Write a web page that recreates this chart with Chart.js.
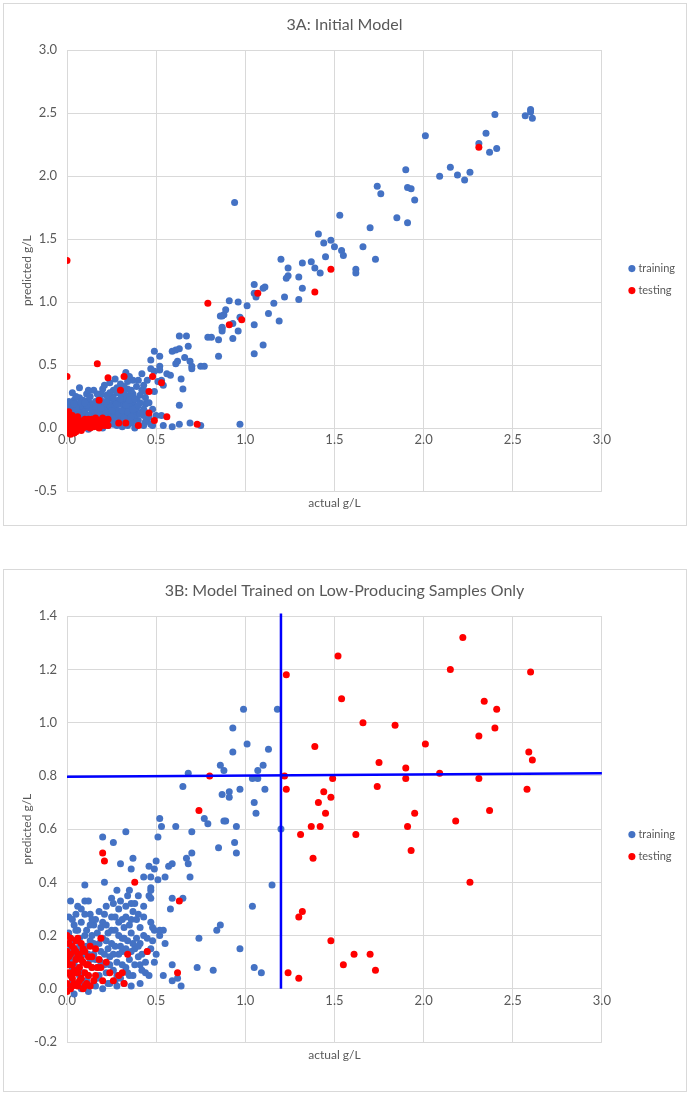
<!DOCTYPE html>
<html>
<head>
<meta charset="utf-8">
<script src="https://cdn.jsdelivr.net/npm/chart.js@4.4.1/dist/chart.umd.min.js"></script>
<style>
  body { margin: 0; background: #fff; }
  .box { position: absolute; left: 3px; width: 682px; height: 521px; border: 1px solid #d9d9d9; background: #fff; }
</style>
</head>
<body>
<div class="box" style="top:3px"><canvas id="chartA" width="682" height="521"></canvas></div>
<div class="box" style="top:569px"><canvas id="chartB" width="682" height="521"></canvas></div>
<script>
// 3A: initial model, [actual, predicted] in g/L
const trainA = [
  [2.60,2.53],[2.57,2.48],[2.61,2.46],[2.60,2.51],[2.40,2.49],[2.01,2.32],[2.35,2.34],[2.31,2.26],[2.37,2.19],[2.41,2.22],
  [1.90,2.05],[1.74,1.92],[1.76,1.86],[1.91,1.91],[1.93,1.90],[1.95,1.81],[1.85,1.67],[1.91,1.63],[1.70,1.59],
  [2.09,2.00],[2.15,2.07],[2.19,2.01],[2.23,1.97],[2.26,2.03],
  [1.66,1.44],[1.73,1.34],[1.62,1.26],[1.62,1.23],
  [0.94,1.79],[1.53,1.69],[1.41,1.54],[1.44,1.47],[1.48,1.49],[1.50,1.44],[1.45,1.36],[1.54,1.41],[1.55,1.37],
  [1.20,1.34],[1.32,1.31],[1.37,1.32],[1.24,1.27],[1.39,1.27],[1.42,1.23],[1.30,1.20],[1.32,1.11],[1.30,1.02],
  [1.24,1.21],[1.23,1.19],[1.22,1.04],[1.16,0.99],[1.13,0.91],[1.19,0.85],
  [1.05,1.14],[1.11,1.12],[1.10,1.11],[1.05,1.07],[1.06,1.04],[1.01,0.97],[1.05,0.82],[1.05,0.59],[1.10,0.66],
  [0.96,1.00],[0.91,1.01],[0.89,0.94],[0.88,0.90],[0.87,0.89],[0.87,0.79],[0.87,0.77],[0.93,0.83],[0.97,0.88],
  [0.96,0.77],[0.86,0.89],[0.87,0.80],[0.93,0.71],
  [0.63,0.73],[0.67,0.73],[0.79,0.72],[0.81,0.72],[0.85,0.70],[0.85,0.57],[0.68,0.65],[0.63,0.63],[0.59,0.61],
  [0.61,0.62],[0.66,0.56],[0.69,0.53],[0.70,0.49],[0.70,0.47],[0.75,0.49],[0.77,0.49],
  [0.52,0.57],[0.49,0.61],[0.47,0.54],[0.52,0.49],[0.52,0.46],[0.56,0.43],[0.58,0.42],[0.61,0.51],[0.62,0.53],
  [0.53,0.38],[0.54,0.34],[0.51,0.37],[0.49,0.45],[0.47,0.47],[0.45,0.38],[0.43,0.34],[0.49,0.29],[0.44,0.19],
  [0.63,0.18],[0.64,0.39],[0.65,0.31],
  [0.53,0.10],[0.54,0.02],[0.59,0.01],[0.63,0.03],[0.69,0.04],[0.75,0.02],[0.97,0.03],
  [0.07,0.32],[0.33,0.44],[0.35,0.41],[0.37,0.38],[0.15,0.30],[0.27,0.39],[0.24,0.36],[0.20,0.31],[0.22,0.26],
  [0.25,0.25],[0.28,0.32],[0.30,0.27],[0.34,0.31],[0.37,0.27],[0.41,0.26],[0.41,0.20],[0.37,0.19],[0.33,0.24],
  [0.29,0.22],[0.26,0.20],[0.11,0.27],[0.07,0.24],[0.04,0.22],[0.01,0.17],[0.12,0.22],[0.19,0.22],[0.17,0.16],
  [0.22,0.16],[0.26,0.15],[0.32,0.15],[0.35,0.14],[0.39,0.11],[0.43,0.10],[0.08,0.15],[0.05,0.11],[0.14,0.11],
  [0.21,0.10],[0.29,0.08],[0.36,0.07],[0.40,0.06],[0.45,0.06],[0.48,0.02],[0.34,0.02],[0.28,0.02],[0.23,0.02],
  [0.17,0.01],
  [0.01,0.05],[0.02,0.12],[0.03,0.08],[0.03,0.18],[0.04,0.14],[0.05,0.03],[0.06,0.07],[0.06,0.19],[0.07,0.12],
  [0.08,0.05],[0.09,0.09],[0.09,0.17],[0.10,0.13],[0.10,0.02],[0.11,0.07],[0.12,0.16],[0.13,0.04],[0.13,0.10],
  [0.14,0.19],[0.15,0.06],[0.15,0.14],[0.16,0.09],[0.17,0.12],[0.18,0.04],[0.18,0.18],[0.19,0.08],[0.20,0.13],
  [0.21,0.05],[0.21,0.19],[0.22,0.09],[0.23,0.13],[0.24,0.06],[0.24,0.18],[0.25,0.10],[0.26,0.03],[0.27,0.12],
  [0.27,0.17],[0.28,0.06],[0.29,0.14],[0.30,0.10],[0.30,0.19],[0.31,0.04],[0.32,0.12],[0.33,0.07],[0.33,0.21],
  [0.34,0.10],[0.35,0.17],[0.36,0.04],[0.37,0.12],[0.38,0.08],[0.39,0.16],[0.40,0.03],[0.42,0.13],[0.44,0.05],
  [0.46,0.09],[0.02,0.01],[0.04,-0.02],[0.07,0.00],[0.12,-0.01],[0.16,0.03],[0.20,0.00],[0.25,0.04],[0.31,0.01],
  [0.38,0.00],[0.43,0.02],[0.00,0.09],[0.00,0.15],[0.01,0.21],[0.05,0.25],[0.09,0.22],[0.13,0.25],[0.16,0.21],
  [0.19,0.27],[0.23,0.23],[0.28,0.28],[0.31,0.22],[0.35,0.26],[0.39,0.23],[0.32,0.33],[0.26,0.30],[0.18,0.25],
  [0.02,0.03],[0.03,0.13],[0.05,0.16],[0.06,0.02],[0.08,0.10],[0.08,0.20],[0.10,0.07],[0.11,0.18],[0.12,0.10],
  [0.14,0.14],[0.14,0.04],[0.16,0.17],[0.17,0.07],[0.19,0.11],[0.19,0.16],[0.20,0.06],[0.22,0.12],[0.22,0.21],
  [0.23,0.08],[0.25,0.14],[0.26,0.24],[0.27,0.08],[0.28,0.19],[0.29,0.11],[0.30,0.23],[0.31,0.14],[0.32,0.08],
  [0.32,0.28],[0.33,0.18],[0.34,0.13],[0.35,0.22],[0.36,0.09],[0.36,0.30],[0.37,0.15],[0.38,0.23],[0.39,0.05],
  [0.40,0.18],[0.41,0.11],[0.42,0.30],[0.43,0.15],[0.44,0.24],[0.45,0.12],[0.46,0.20],[0.47,0.03],[0.48,0.15],
  [0.50,0.10],[0.30,0.35],[0.34,0.37],[0.29,0.31],[0.24,0.28],[0.21,0.34],[0.17,0.27],[0.12,0.30],[0.10,0.20],
  [0.04,0.19],[0.03,0.28],[0.39,0.33],[0.44,0.29],[0.40,0.38],[0.42,0.43]
];
const testA = [
  [0.00,1.33],[0.00,0.41],[0.17,0.51],[0.23,0.40],[0.32,0.41],[0.30,0.30],[0.18,0.22],[0.48,0.41],[0.46,0.29],
  [0.53,0.36],[0.46,0.12],[0.56,0.09],[0.49,0.06],[0.40,0.02],[0.33,0.04],[0.29,0.04],[0.73,0.03],
  [0.79,0.99],[0.91,0.82],[0.98,0.86],[1.07,1.07],[1.39,1.08],[1.48,1.26],[2.31,2.23],
  [0.00,-0.04],[0.00,0.00],[0.00,0.04],[0.00,0.08],[0.01,-0.02],[0.01,0.02],[0.01,0.06],[0.02,-0.05],[0.02,0.00],
  [0.02,0.04],[0.02,0.09],[0.03,-0.02],[0.03,0.02],[0.03,0.06],[0.04,0.00],[0.04,0.04],[0.04,-0.04],[0.05,0.02],
  [0.05,0.07],[0.06,-0.01],[0.06,0.04],[0.07,0.01],[0.07,0.06],[0.08,-0.02],[0.08,0.03],[0.09,0.05],[0.09,0.00],
  [0.10,0.03],[0.10,0.07],[0.11,0.01],[0.11,0.05],[0.12,0.03],[0.12,0.07],[0.13,0.00],[0.13,0.05],[0.14,0.03],
  [0.14,0.07],[0.15,0.01],[0.15,0.05],[0.16,0.04],[0.16,0.08],[0.17,0.02],[0.17,0.06],[0.18,0.04],[0.18,0.00],
  [0.19,0.06],[0.19,0.02],[0.20,0.04],[0.20,0.08],[0.21,0.02],[0.21,0.06],[0.22,0.04],[0.23,0.07],[0.23,0.02],
  [0.00,0.11],[0.01,0.13],[0.03,0.10],[0.06,0.09],[0.05,-0.03]
];

// 3B: model trained on low-producing samples only
const trainB = [
  [0.99,1.05],[1.18,1.05],[0.93,0.98],[1.01,0.92],[0.93,0.89],[1.13,0.90],[0.86,0.84],[0.88,0.82],[0.68,0.81],
  [1.10,0.84],[1.07,0.82],[1.04,0.79],[1.07,0.79],[0.65,0.76],[0.97,0.75],[1.11,0.75],[0.91,0.74],[0.91,0.72],
  [0.87,0.73],[1.05,0.70],[1.06,0.66],[0.77,0.64],[0.52,0.64],[0.89,0.63],
  [1.20,0.60],[1.15,0.39],[1.04,0.31],[0.97,0.15],[1.05,0.08],[1.09,0.06],[0.74,0.19],[0.73,0.08],[0.82,0.07],
  [0.84,0.22],[0.86,0.24],
  [0.79,0.62],[0.88,0.63],[0.95,0.61],[0.94,0.55],[0.95,0.51],[0.85,0.53],[0.70,0.59],[0.61,0.61],[0.53,0.61],
  [0.51,0.57],[0.67,0.49],[0.68,0.47],[0.70,0.51],[0.69,0.42],[0.57,0.46],[0.59,0.47],[0.50,0.48],[0.46,0.46],
  [0.49,0.45],[0.51,0.41],[0.55,0.42],[0.43,0.42],[0.47,0.42],[0.37,0.49],[0.36,0.45],[0.30,0.47],[0.33,0.59],
  [0.20,0.57],[0.26,0.55],[0.21,0.40],[0.10,0.39],[0.35,0.37],[0.47,0.38],[0.47,0.37],[0.46,0.35],[0.47,0.34],
  [0.59,0.34],[0.58,0.30],[0.65,0.34],[0.38,0.32],[0.25,0.34],[0.02,0.33],[0.10,0.33],[0.06,0.31],[0.01,0.27],
  [0.05,0.28],[0.10,0.28],[0.13,0.28],[0.15,0.24],[0.22,0.31],[0.29,0.30],[0.33,0.31],[0.27,0.27],[0.31,0.26],
  [0.36,0.26],[0.40,0.28],[0.43,0.27],[0.47,0.25],[0.49,0.22],[0.52,0.22],[0.54,0.22],[0.55,0.17],[0.41,0.17],
  [0.41,0.09],[0.49,0.10],[0.44,0.06],[0.54,0.05],[0.59,0.09],[0.59,0.03],[0.64,0.01],[0.62,0.04],[0.41,0.02],
  [0.01,0.21],[0.02,0.15],[0.03,0.08],[0.04,0.18],[0.05,0.12],[0.06,0.22],[0.07,0.05],[0.08,0.16],[0.09,0.10],
  [0.10,0.20],[0.11,0.03],[0.12,0.13],[0.13,0.24],[0.14,0.08],[0.15,0.17],[0.16,0.11],[0.17,0.21],[0.18,0.05],
  [0.19,0.14],[0.20,0.25],[0.21,0.09],[0.22,0.18],[0.23,0.02],[0.24,0.12],[0.25,0.22],[0.26,0.07],[0.27,0.16],
  [0.28,0.10],[0.29,0.20],[0.30,0.04],[0.31,0.14],[0.32,0.23],[0.33,0.08],[0.34,0.18],[0.35,0.11],[0.36,0.21],
  [0.37,0.05],[0.38,0.15],[0.39,0.19],[0.40,0.12],[0.42,0.07],[0.45,0.14],[0.48,0.18],[0.03,0.26],[0.07,0.19],
  [0.11,0.16],[0.15,0.02],[0.19,0.23],[0.23,0.15],[0.27,0.03],[0.31,0.19],[0.35,0.05],[0.02,0.11],[0.06,0.14],
  [0.09,0.02],[0.13,0.18],[0.17,0.08],[0.21,0.13],[0.25,0.17],[0.29,0.13],[0.33,0.15],[0.37,0.17],[0.01,0.01],
  [0.04,-0.02],[0.08,0.00],[0.12,-0.01],[0.16,0.01],[0.20,0.00],[0.24,0.02],[0.28,0.01],[0.32,0.02],[0.36,0.01],
  [0.02,0.19],[0.03,0.03],[0.04,0.10],[0.05,0.22],[0.06,0.08],[0.07,0.16],[0.08,0.25],[0.09,0.06],[0.10,0.13],
  [0.11,0.22],[0.12,0.05],[0.13,0.11],[0.14,0.20],[0.15,0.13],[0.16,0.26],[0.17,0.04],[0.18,0.17],[0.19,0.10],
  [0.20,0.19],[0.21,0.28],[0.22,0.06],[0.23,0.21],[0.24,0.09],[0.25,0.27],[0.26,0.13],[0.27,0.22],[0.28,0.05],
  [0.29,0.25],[0.30,0.16],[0.31,0.09],[0.32,0.19],[0.33,0.27],[0.34,0.06],[0.35,0.24],[0.36,0.14],[0.37,0.29],
  [0.38,0.09],[0.39,0.26],[0.40,0.16],[0.41,0.23],[0.42,0.13],[0.43,0.20],[0.44,0.10],[0.45,0.19],[0.46,0.05],
  [0.47,0.15],[0.48,0.23],[0.50,0.13],[0.52,0.20],[0.30,0.33],[0.34,0.35],[0.28,0.37],[0.40,0.35],[0.43,0.31],
  [0.26,0.32],[0.18,0.29],[0.12,0.33],[0.08,0.30],[0.04,0.24],[0.36,0.32],[0.22,0.24],[0.14,0.26]
];
const testB = [
  [1.23,1.18],[1.52,1.25],[1.54,1.09],[1.39,0.91],[0.80,0.80],[1.22,0.80],[1.23,0.75],[1.49,0.79],[1.44,0.74],
  [1.48,0.72],[1.41,0.70],[1.45,0.66],[0.74,0.67],
  [2.22,1.32],[2.15,1.20],[2.60,1.19],[1.66,1.00],[1.84,0.99],[2.34,1.08],[2.41,1.05],[2.40,0.98],[2.31,0.95],
  [2.01,0.92],[2.59,0.89],[2.61,0.86],[1.75,0.85],[1.90,0.83],[1.90,0.79],[2.09,0.81],[2.31,0.79],[1.74,0.76],
  [2.58,0.75],[1.95,0.66],[2.37,0.67],[2.18,0.63],
  [1.91,0.61],[1.93,0.52],[1.37,0.61],[1.42,0.61],[1.31,0.58],[1.62,0.58],[1.38,0.49],[1.32,0.29],[1.30,0.27],
  [1.48,0.18],[1.61,0.13],[1.70,0.13],[1.55,0.09],[1.73,0.07],[1.24,0.06],[1.30,0.04],[2.26,0.40],
  [0.63,0.33],[0.38,0.40],[0.20,0.51],[0.21,0.48],[0.34,0.13],[0.45,0.14],[0.62,0.06],[0.32,0.02],[0.29,0.05],
  [0.31,0.06],[0.19,0.19],[0.22,0.10],[0.13,0.16],[0.16,0.15],[0.17,0.08],
  [0.00,0.20],[0.01,0.17],[0.02,0.13],[0.00,0.10],[0.01,0.06],[0.00,0.02],[0.02,0.00],[0.03,0.04],[0.03,0.09],
  [0.04,0.15],[0.04,0.02],[0.05,0.11],[0.05,0.06],[0.06,0.19],[0.06,0.01],[0.07,0.08],[0.07,0.13],[0.08,0.04],
  [0.08,0.17],[0.09,0.10],[0.09,0.00],[0.10,0.06],[0.10,0.14],[0.11,0.02],[0.11,0.09],[0.12,0.12],[0.12,0.05],
  [0.13,0.01],[0.14,0.08],[0.15,0.03],[0.00,0.14],[0.01,0.09],[0.02,0.19],[0.02,0.05],[0.03,0.16],[0.04,0.07],
  [0.05,0.18],[0.06,0.12],[0.07,0.03],[0.00,-0.01],[0.01,0.12],[0.03,0.01],[0.05,0.14],[0.06,0.06],[0.08,0.11],
  [0.09,0.15],[0.10,0.01],[0.12,0.09],[0.14,0.12],[0.16,0.05],[0.18,0.11],[0.20,0.03],[0.19,0.08],[0.24,0.06],
  [0.26,0.03]
];
// cut-off lines drawn over 3B
const vLineB = [[1.2, 0.0], [1.2, 1.41]];
const hLineB = [[0.0, 0.797], [3.0, 0.81]];

// axis ranges: min, max, step
const xRange = [0, 3.0, 0.5];
const yRangeA = [-0.5, 3.0, 0.5];
const yRangeB = [-0.2, 1.4, 0.2];

const gray = '#595959';
const gridColor = '#d9d9d9';
Chart.defaults.font.family = 'Lato, "Open Sans", sans-serif';
Chart.defaults.color = gray;

function pts(arr) {
  return arr.map(p => ({ x: p[0], y: p[1] }));
}

function fmt(v) {
  return (Math.abs(v) < 1e-9 ? 0 : v).toFixed(1);
}

function pointSet(label, data, color, order) {
  return {
    label: label,
    data: pts(data),
    backgroundColor: color,
    borderColor: color,
    borderWidth: 0,
    pointRadius: 3.5,
    pointHoverRadius: 3.5,
    order: order
  };
}

function lineSet(data) {
  return {
    label: 'cut',
    data: pts(data),
    showLine: true,
    borderColor: '#0000FF',
    borderWidth: 2.5,
    pointRadius: 0,
    clip: false,
    order: 0
  };
}

function makeOptions(title, yRange, bottomHeight, xTitlePad) {
  return {
    responsive: false,
    animation: false,
    devicePixelRatio: 1,
    layout: { padding: { left: 0, right: 1, top: 0, bottom: 0 } },
    plugins: {
      title: {
        display: true,
        text: title,
        color: gray,
        font: { size: 16, weight: 'normal' },
        padding: { top: 11, bottom: 16 }
      },
      legend: {
        position: 'right',
        align: 'center',
        title: { display: true, text: ' ', font: { size: 11 }, padding: { top: 17, bottom: 0 } },
        labels: {
          usePointStyle: true,
          pointStyle: 'circle',
          boxWidth: 2,
          boxHeight: 5,
          padding: 11,
          color: gray,
          font: { size: 11 },
          filter: item => item.text !== 'cut',
          sort: (a, b) => a.datasetIndex - b.datasetIndex
        }
      },
      tooltip: { enabled: false }
    },
    scales: {
      x: {
        type: 'linear',
        min: xRange[0],
        max: xRange[1],
        position: { y: 0 },
        ticks: { stepSize: xRange[2], padding: 4, color: gray, font: { size: 13 }, callback: fmt },
        grid: { color: gridColor, drawTicks: false },
        border: { color: gridColor }
      },
      x2: {
        type: 'linear',
        position: 'bottom',
        min: xRange[0],
        max: xRange[1],
        grid: { display: false },
        border: { display: false },
        ticks: { display: false },
        title: {
          display: true,
          text: 'actual g/L',
          color: gray,
          font: { size: 12 },
          padding: { top: 0, bottom: xTitlePad }
        },
        afterFit: s => { s.height = bottomHeight; }
      },
      y: {
        type: 'linear',
        min: yRange[0],
        max: yRange[1],
        ticks: { stepSize: yRange[2], padding: 10, color: gray, font: { size: 13 }, callback: fmt },
        grid: { color: gridColor, drawTicks: false },
        border: { color: gridColor },
        title: {
          display: true,
          text: 'predicted g/L',
          color: gray,
          font: { size: 12 },
          padding: { top: 16, bottom: 0 }
        },
        afterFit: s => { s.width = 63; }
      },
      // empty spacer between plot and legend
      yGap: {
        type: 'linear',
        position: 'right',
        grid: { display: false },
        border: { display: false },
        ticks: { display: false },
        afterFit: s => { s.width = 18; }
      }
    }
  };
}

new Chart(document.getElementById('chartA'), {
  type: 'scatter',
  data: {
    datasets: [
      pointSet('training', trainA, '#4472C4', 2),
      pointSet('testing', testA, '#FF0000', 1)
    ]
  },
  options: makeOptions('3A: Initial Model', yRangeA, 34, 15)
});

new Chart(document.getElementById('chartB'), {
  type: 'scatter',
  data: {
    datasets: [
      pointSet('training', trainB, '#4472C4', 2),
      pointSet('testing', testB, '#FF0000', 1),
      lineSet(vLineB),
      lineSet(hLineB)
    ]
  },
  options: makeOptions('3B: Model Trained on Low-Producing Samples Only', yRangeB, 49, 29)
});
</script>
</body>
</html>
